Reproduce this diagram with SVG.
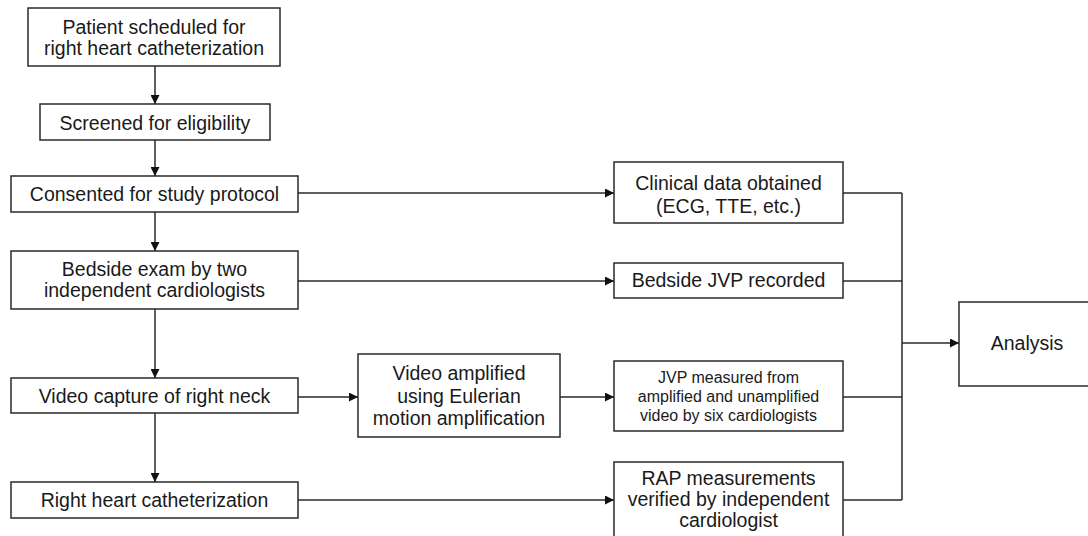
<svg xmlns="http://www.w3.org/2000/svg" width="1088" height="536" viewBox="0 0 1088 536">
<style>
.box{fill:#fff;stroke:#2a2a2a;stroke-width:1.5}
.t{font-family:"Liberation Sans",Arial,sans-serif;font-size:19.5px;fill:#1a1a1a;text-anchor:middle}
.s{font-size:16px}
.c{fill:none;stroke:#2a2a2a;stroke-width:1.5}
</style>
<defs>
<marker id="ah" viewBox="0 0 10 10" refX="10" refY="5" markerWidth="9" markerHeight="9" markerUnits="userSpaceOnUse" orient="auto">
<path d="M0,0 L10,5 L0,10 z" fill="#111"/>
</marker>
</defs>
<rect width="1088" height="536" fill="#fff"/>
<g id="connectors">
<line class="c" x1="155" y1="66" x2="155" y2="104" marker-end="url(#ah)"/>
<line class="c" x1="155" y1="140" x2="155" y2="176" marker-end="url(#ah)"/>
<line class="c" x1="155" y1="212" x2="155" y2="251" marker-end="url(#ah)"/>
<line class="c" x1="155" y1="309" x2="155" y2="378" marker-end="url(#ah)"/>
<line class="c" x1="155" y1="413" x2="155" y2="482" marker-end="url(#ah)"/>
<line class="c" x1="298" y1="193" x2="614" y2="193" marker-end="url(#ah)"/>
<line class="c" x1="298" y1="281" x2="614" y2="281" marker-end="url(#ah)"/>
<line class="c" x1="298" y1="397" x2="358" y2="397" marker-end="url(#ah)"/>
<line class="c" x1="560" y1="397" x2="614" y2="397" marker-end="url(#ah)"/>
<line class="c" x1="298" y1="500" x2="614" y2="500" marker-end="url(#ah)"/>
<path class="c" d="M843,193 H902 M843,281 H902 M843,397 H902 M843,500 H902 M902,193 V500"/>
<line class="c" x1="902" y1="343" x2="959" y2="343" marker-end="url(#ah)"/>
</g>
<g id="n1"><rect class="box" x="28" y="8" width="252" height="58"/>
<text class="t" x="154" y="34">Patient scheduled for</text>
<text class="t" x="154" y="55">right heart catheterization</text></g>
<g id="n2"><rect class="box" x="40" y="104" width="230" height="36"/>
<text class="t" x="155" y="130">Screened for eligibility</text></g>
<g id="n3"><rect class="box" x="11" y="176" width="287" height="36"/>
<text class="t" x="154.5" y="201">Consented for study protocol</text></g>
<g id="n4"><rect class="box" x="11" y="251" width="287" height="58"/>
<text class="t" x="154.5" y="276">Bedside exam by two</text>
<text class="t" x="154.5" y="297">independent cardiologists</text></g>
<g id="n5"><rect class="box" x="11" y="378" width="287" height="35"/>
<text class="t" x="154.5" y="403">Video capture of right neck</text></g>
<g id="n6"><rect class="box" x="11" y="482" width="287" height="36"/>
<text class="t" x="154.5" y="507">Right heart catheterization</text></g>
<g id="n7"><rect class="box" x="358" y="354" width="202" height="83"/>
<text class="t" x="459" y="380">Video amplified</text>
<text class="t" x="459" y="403">using Eulerian</text>
<text class="t" x="459" y="425">motion amplification</text></g>
<g id="n8"><rect class="box" x="614" y="162" width="229" height="61"/>
<text class="t" x="728.5" y="190">Clinical data obtained</text>
<text class="t" x="728.5" y="213">(ECG, TTE, etc.)</text></g>
<g id="n9"><rect class="box" x="614" y="263" width="229" height="35"/>
<text class="t" x="728.5" y="287">Bedside JVP recorded</text></g>
<g id="n10"><rect class="box" x="614" y="361" width="229" height="70"/>
<text class="t s" x="728.5" y="383">JVP measured from</text>
<text class="t s" x="728.5" y="402">amplified and unamplified</text>
<text class="t s" x="728.5" y="421">video by six cardiologists</text></g>
<g id="n11"><rect class="box" x="614" y="462" width="229" height="84"/>
<text class="t" x="728.5" y="485">RAP measurements</text>
<text class="t" x="728.5" y="506">verified by independent</text>
<text class="t" x="728.5" y="527">cardiologist</text></g>
<g id="n12"><rect class="box" x="959" y="302" width="140" height="84"/>
<text class="t" x="1027" y="350">Analysis</text></g>
</svg>
